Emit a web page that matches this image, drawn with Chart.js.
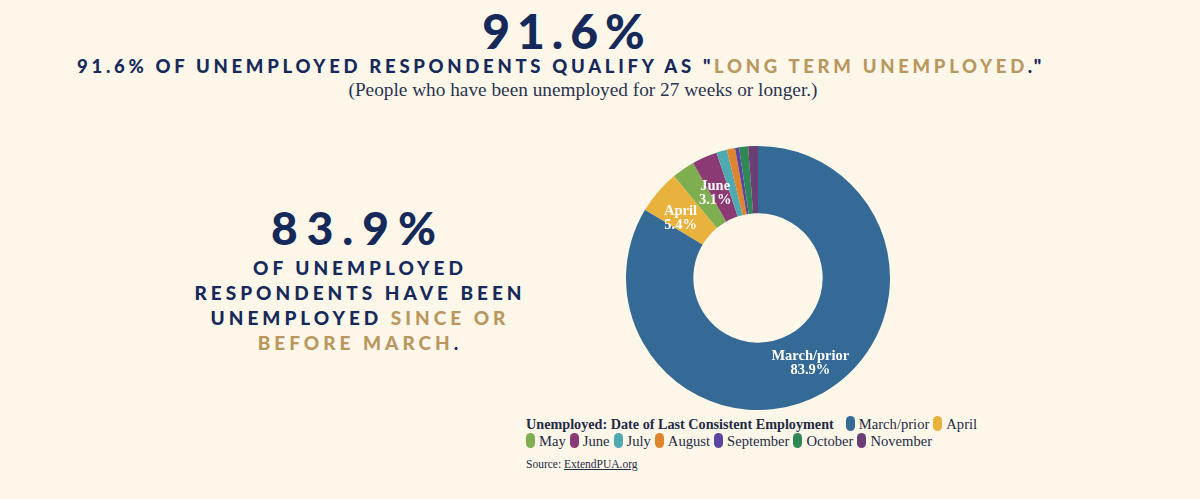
<!DOCTYPE html>
<html>
<head>
<meta charset="utf-8">
<script src="https://cdn.jsdelivr.net/npm/chart.js@4.4.0/dist/chart.umd.min.js"></script>
<style>
  html, body { margin: 0; padding: 0; }
  body {
    width: 1200px; height: 499px; overflow: hidden;
    background: #fdf7ea; position: relative;
    font-family: "Lato", sans-serif; color: #15295a;
  }
  .big {
    position: absolute; font-weight: 900; letter-spacing: 7px;
    text-align: center;
  }
  .caps {
    position: absolute; font-weight: 900; text-transform: uppercase;
    text-align: center; white-space: nowrap;
  }
  .gold { color: #b9975f; }
  .sub {
    position: absolute; font-family: "Liberation Serif", serif;
    font-size: 19.3px; color: #2a3350; text-align: center; white-space: nowrap;
  }
  #chartBox { position: absolute; left: 626px; top: 146px; width: 264px; height: 264px; }
  #legend {
    position: absolute; left: 526px; top: 416px; width: 520px;
    font-family: "Liberation Serif", serif; font-size: 14.6px; color: #1f2a44;
    line-height: 17px; white-space: nowrap;
  }
  #legend b { font-size: 14.2px; margin-right: 12px; }
  .item { display: inline-block; margin-right: 4px; }
  .sw {
    display: inline-block; width: 9px; height: 15px; border-radius: 5px;
    vertical-align: -2px; margin-right: 4px;
  }
  #source {
    position: absolute; left: 526px; top: 458px;
    font-family: "Liberation Serif", serif; font-size: 11.5px; color: #1f2a44;
  }
  #source u { text-decoration: underline; }
</style>
</head>
<body>
<div class="big" style="left:0;width:1134px;top:13px;font-size:48px;line-height:36px;">91.6%</div>
<div class="caps" style="left:0;width:1122px;top:55px;font-size:18.5px;letter-spacing:3.7px;">91.6% of unemployed respondents qualify as "<span class="gold">long term unemployed</span>."</div>
<div class="sub" style="left:0;width:1166px;top:79px;">(People who have been unemployed for 27 weeks or longer.)</div>

<div class="big" style="left:0;width:716px;top:211px;font-size:46px;line-height:34px;letter-spacing:9px;">83.9%</div>
<div class="caps" style="left:0;width:720px;top:255px;font-size:19px;letter-spacing:4px;line-height:25px;">
  Of unemployed<br>respondents have been<br>unemployed <span class="gold">since or</span><br><span class="gold">before March</span>.
</div>

<div id="chartBox"><canvas id="donut"></canvas></div>
<div id="legend"></div>
<div id="source">Source: <u>ExtendPUA.org</u></div>

<script>
// Data
const labels = ['March/prior', 'April', 'May', 'June', 'July', 'August', 'September', 'October', 'November'];
const shares = [83.9, 5.4, 2.8, 3.1, 1.3, 1.0, 0.5, 1.1, 1.2];
const colors = ['#346a95', '#e9b23d', '#7fae50', '#8c3a74', '#4ea9b1', '#e0842d', '#5a46a0', '#2f8657', '#6b3e76'];
const legendTitle = 'Unemployed: Date of Last Consistent Employment';

// Slice labels for the larger slices
const sliceLabels = {
    id: 'sliceLabels',
    afterDatasetsDraw(chart) {
        const ctx = chart.ctx;
        const meta = chart.getDatasetMeta(0);
        ctx.save();
        ctx.fillStyle = '#ffffff';
        ctx.textAlign = 'center';
        ctx.textBaseline = 'middle';
        ctx.font = 'bold 14.5px "Liberation Serif", serif';
        meta.data.forEach((arc, i) => {
            if (shares[i] <= 3) return;
            const p = arc.tooltipPosition();
            const dx = i === 0 ? 4 : -3;
            const dy = i === 0 ? 0 : 5;
            ctx.fillText(labels[i], p.x + dx, p.y - 7 + dy);
            ctx.fillText(shares[i].toFixed(1) + '%', p.x + dx, p.y + 7 + dy);
        });
        ctx.restore();
    }
};

const donut = new Chart(document.getElementById('donut').getContext('2d'), {
    type: 'doughnut',
    data: {
        labels: labels,
        datasets: [{
            data: shares,
            backgroundColor: colors,
            borderWidth: 0
        }]
    },
    options: {
        responsive: true,
        maintainAspectRatio: false,
        animation: false,
        cutout: '49%',
        layout: { padding: 0 },
        plugins: {
            legend: { display: false },
            tooltip: { enabled: false }
        }
    },
    plugins: [sliceLabels]
});

// HTML legend built from the same arrays
const legend = document.getElementById('legend');
let html = '<b>' + legendTitle + '</b>';
labels.forEach((l, i) => {
    html += '<span class="item"><span class="sw" style="background:' + colors[i] + '"></span>' + l + '</span>';
    if (i === 1) html += '<br>';
});
legend.innerHTML = html;
</script>
</body>
</html>
